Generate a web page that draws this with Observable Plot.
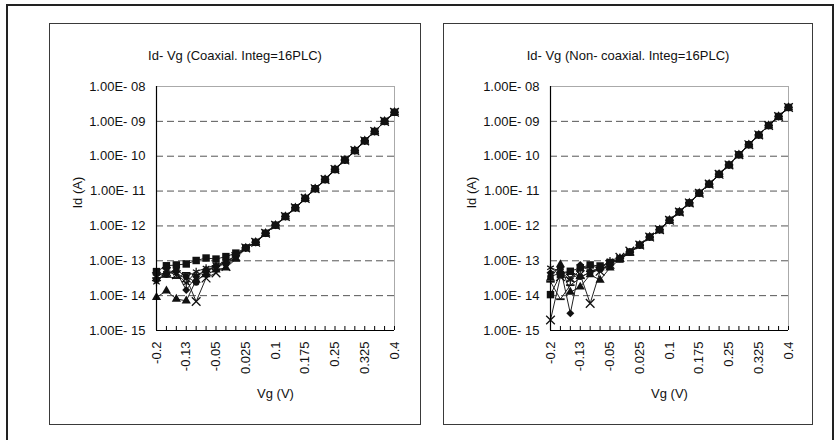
<!DOCTYPE html>
<html><head><meta charset="utf-8">
<script src="https://cdn.jsdelivr.net/npm/d3@7"></script>
<script src="https://cdn.jsdelivr.net/npm/@observablehq/plot@0.6"></script>
<style>
html,body{margin:0;padding:0;background:#fff;}
#wrap{position:relative;width:840px;height:440px;overflow:hidden;background:#fff;}
.outer{position:absolute;left:6px;top:4px;width:828px;height:450px;border:2px solid #222;box-sizing:border-box;}
.panel{position:absolute;border:1.5px solid #3a3a3a;box-sizing:border-box;}
.plot{position:absolute;}
</style></head><body><div id="wrap"><div class="outer"></div></div>
<script>
// Gate voltage categories (V)
const vg = [-0.2,-0.175,-0.15,-0.125,-0.1,-0.075,-0.05,-0.025,0,0.025,0.05,0.075,0.1,0.125,0.15,0.175,0.2,0.225,0.25,0.275,0.3,0.325,0.35,0.375,0.4];
const xTickValues = [-0.2,-0.125,-0.05,0.025,0.1,0.175,0.25,0.325,0.4];
const xTickLabels = ["-0.2","-0.13","-0.05","0.025","0.1","0.175","0.25","0.325","0.4"];
const yTickValues = [1e-15,1e-14,1e-13,1e-12,1e-11,1e-10,1e-9,1e-8];
const yTickLabels = ["1.00E- 15","1.00E- 14","1.00E- 13","1.00E- 12","1.00E- 11","1.00E- 10","1.00E- 09","1.00E- 08"];
const gridValues = [1e-14,1e-13,1e-12,1e-11,1e-10,1e-9];
const titles = ["Id- Vg (Coaxial. Integ=16PLC)", "Id- Vg (Non- coaxial. Integ=16PLC)"];

// Coaxial: shared curve for Vg = 0.025 .. 0.4 (A)
const coaxMain = [2.34e-13,3.39e-13,6.17e-13,1.05e-12,1.86e-12,3.31e-12,6.17e-12,1.17e-11,2.14e-11,4.17e-11,7.76e-11,1.45e-10,2.75e-10,5.13e-10,1.0e-9,1.82e-9];
// Coaxial: individual runs for Vg = -0.2 .. 0 (A)
const coaxDiamond  = [4.0e-14,4.4e-14,4.9e-14,1.45e-14,3.5e-14,5.5e-14,6.9e-14,8.9e-14,1.41e-13];
const coaxTriangle = [8.9e-15,1.38e-14,8.0e-15,7.1e-15,2.8e-14,4.0e-14,5.5e-14,6.3e-14,1.12e-13];
const coaxCross    = [3.5e-14,4.9e-14,4.0e-14,3.2e-14,6.8e-15,3.2e-14,4.5e-14,6.9e-14,1.32e-13];
const coaxStar     = [2.4e-14,5.5e-14,4.4e-14,2.3e-14,4.9e-14,6.2e-14,7.6e-14,9.5e-14,1.41e-13];
const coaxCircle   = [2.8e-14,4.0e-14,5.5e-14,3.5e-14,2.4e-14,4.9e-14,6.9e-14,8.1e-14,1.32e-13];
const coaxDash     = [3.2e-14,3.5e-14,3.2e-14,4.5e-14,4.0e-14,5.0e-14,7.1e-14,8.9e-14,1.41e-13];
const coaxSquare   = [4.9e-14,7.2e-14,7.6e-14,8.1e-14,1.02e-13,1.2e-13,1.12e-13,1.32e-13,1.66e-13];

// Non-coaxial
const nonMain = [2.82e-13,4.79e-13,7.76e-13,1.45e-12,2.51e-12,4.57e-12,8.71e-12,1.58e-11,3.02e-11,5.62e-11,1.10e-10,2.14e-10,4.07e-10,7.59e-10,1.38e-9,2.51e-9];
const nonDiamond  = [4.5e-14,6.3e-14,3.1e-15,7.6e-14,5.0e-14,6.3e-14,8.9e-14,1.2e-13,1.78e-13];
const nonTriangle = [3.2e-14,7.8e-14,1.26e-14,1.78e-14,4.0e-14,2.8e-14,6.3e-14,1.12e-13,1.66e-13];
const nonCross    = [2.0e-15,3.5e-14,3.2e-14,4.0e-14,6.0e-15,5.0e-14,7.9e-14,1.26e-13,1.9e-13];
const nonStar     = [6.3e-14,5.0e-14,2.8e-14,5.6e-14,7.1e-14,6.3e-14,1.0e-13,1.26e-13,1.78e-13];
const nonCircle   = [3.5e-14,4.5e-14,5.0e-14,3.5e-14,4.5e-14,5.6e-14,7.9e-14,1.12e-13,1.7e-13];
const nonDash     = [2.5e-14,7.9e-15,2.0e-14,3.2e-14,5.0e-14,5.6e-14,7.9e-14,1.2e-13,1.78e-13];
const nonSquare   = [1.07e-14,4.0e-14,5.0e-14,6.3e-14,7.6e-14,7.1e-14,8.9e-14,1.12e-13,1.78e-13];

const dashSymbol = {draw(ctx, size){ const w = Math.sqrt(size) * 0.6; ctx.moveTo(-w, 0); ctx.lineTo(w, 0); }};

const markerStyles = {
  diamond:  {symbol: "diamond2", fill: "#111", stroke: "none", r: 3.6},
  triangle: {symbol: "triangle", fill: "#111", stroke: "none", r: 3.4},
  cross:    {symbol: "times", fill: "none", stroke: "#111", strokeWidth: 1.3, r: 4},
  star:     {symbol: "asterisk", fill: "none", stroke: "#111", strokeWidth: 1.2, r: 3.6},
  circle:   {symbol: "circle", fill: "#111", stroke: "none", r: 3.3},
  dash:     {symbol: dashSymbol, fill: "none", stroke: "#111", strokeWidth: 1.8, r: 4},
  square:   {symbol: "square", fill: "#111", stroke: "none", r: 4.2}
};

function buildRows(main, lows) {
  const rows = [];
  for (const [name, low] of Object.entries(lows)) {
    vg.forEach((x, i) => rows.push({s: name, x, y: i < low.length ? low[i] : main[i - low.length]}));
  }
  return rows;
}

function fmtX(d){ const i = xTickValues.findIndex(t => Math.abs(t - d) < 1e-9); return i < 0 ? "" : xTickLabels[i]; }
function fmtY(d){ const i = yTickValues.findIndex(t => Math.abs(Math.log10(t) - Math.log10(d)) < 1e-6); return i < 0 ? "" : yTickLabels[i]; }

function makePanel(cfg) {
  const wrap = document.getElementById("wrap");
  const box = document.createElement("div");
  box.className = "panel";
  Object.assign(box.style, {left: cfg.left + "px", top: cfg.top + "px", width: cfg.width + "px", height: cfg.height + "px"});
  wrap.appendChild(box);

  const rows = buildRows(cfg.main, cfg.lows);
  const mL = 107, mT = 63, mB = 95;
  const plotW = 238;
  const mR = cfg.width - mL - plotW;
  const innerH = cfg.height - mT - mB;
  const marks = [
    Plot.ruleY(gridValues, {y: d => d, stroke: "#555", strokeWidth: 1, strokeDasharray: "7,4"}),
    Plot.ruleY([1e-8], {y: d => d, stroke: "#aaa", strokeWidth: 1}),
    Plot.ruleX([0.4], {x: d => d, stroke: "#aaa", strokeWidth: 1}),
    Plot.line(rows, {x: "x", y: "y", z: "s", stroke: "#222", strokeWidth: 1}),
  ];
  for (const name of Object.keys(cfg.lows)) {
    const st = markerStyles[name];
    marks.push(Plot.dot(rows.filter(d => d.s === name), {x: "x", y: "y", ...st}));
  }
  marks.push(
    Plot.ruleX([-0.2], {x: d => d, stroke: "#000", strokeWidth: 1.2}),
    Plot.ruleY([1e-15], {y: d => d, stroke: "#000", strokeWidth: 1.2}),
    Plot.tickX(vg, {x: d => d, stroke: "#000", strokeWidth: 1, insetTop: innerH - 4}),
    Plot.axisX(xTickValues, {tickSize: 0, tickPadding: 11, tickRotate: -90, tickFormat: fmtX, label: null, fontSize: 13}),
    Plot.axisY(yTickValues, {tickSize: 0, tickPadding: 11, tickFormat: fmtY, label: null, fontSize: 13}),
    Plot.text([cfg.title], {frameAnchor: "top", text: d => d, dy: -36, dx: cfg.titleDx, fontSize: 13}),
    Plot.text(["Id (A)"], {frameAnchor: "left", text: d => d, rotate: -90, dx: -79, fontSize: 13}),
    Plot.text(["Vg (V)"], {frameAnchor: "bottom", text: d => d, dy: 67, fontSize: 13})
  );
  const svg = Plot.plot({
    width: cfg.width, height: cfg.height,
    marginLeft: mL, marginRight: mR, marginTop: mT, marginBottom: mB,
    x: {type: "linear", domain: [-0.2, 0.4]},
    y: {type: "log", domain: [1e-15, 1e-8]},
    style: {fontFamily: "'Liberation Sans', Arial, sans-serif", fontSize: "13px", color: "#111", background: "transparent", overflow: "visible"},
    marks
  });
  svg.classList.add("plot");
  Object.assign(svg.style, {position: "absolute", left: cfg.left + "px", top: cfg.top + "px"});
  wrap.appendChild(svg);
}

makePanel({left: 49, top: 23, width: 372, height: 402, title: titles[0], titleDx: -40.5, main: coaxMain,
  lows: {diamond: coaxDiamond, triangle: coaxTriangle, cross: coaxCross, star: coaxStar, circle: coaxCircle, dash: coaxDash, square: coaxSquare}});
makePanel({left: 443, top: 23, width: 370, height: 402, title: titles[1], titleDx: -41.5, main: nonMain,
  lows: {diamond: nonDiamond, triangle: nonTriangle, cross: nonCross, star: nonStar, circle: nonCircle, dash: nonDash, square: nonSquare}});
</script>
</body></html>
